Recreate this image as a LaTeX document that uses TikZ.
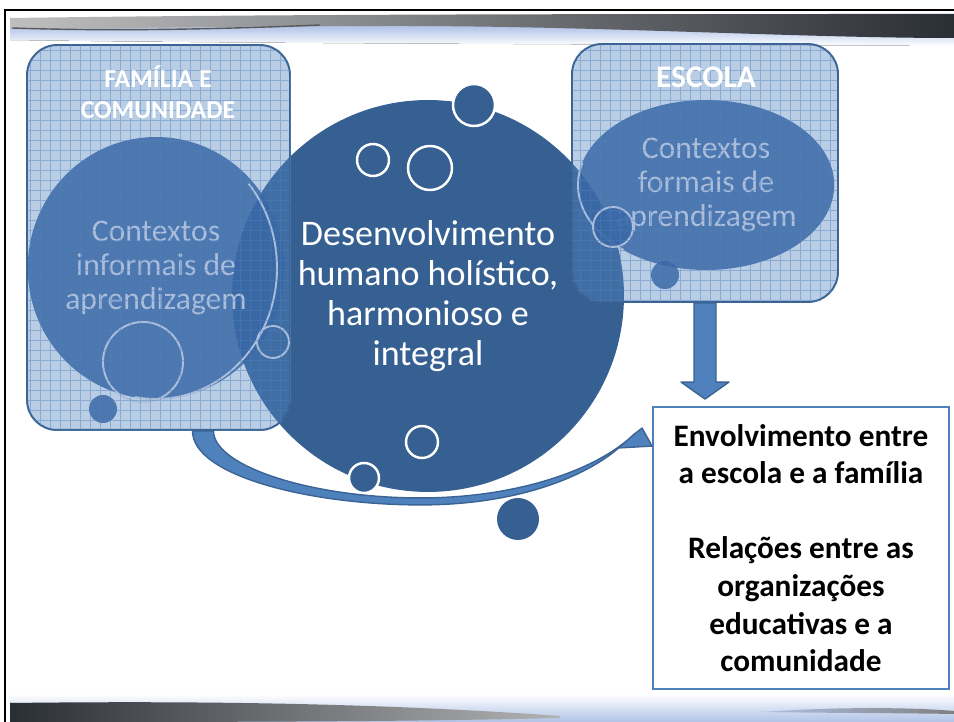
\documentclass[tikz,border=0pt]{standalone}
\usepackage{fontspec}
\setmainfont{Carlito}
\usetikzlibrary{shapes.geometric,calc}
\definecolor{escuro}{HTML}{366092}
\definecolor{medio}{HTML}{4F81BD}
\definecolor{borda}{HTML}{3B6494}
\definecolor{interior}{HTML}{3A68A6}
\definecolor{claro}{HTML}{AABEDC}
\definecolor{faixa}{HTML}{2A2E35}
\definecolor{brilho}{HTML}{B0C2E6}
\tikzset{
  caixa/.style={rectangle, rounded corners=0.6cm, draw=borda, line width=1.1pt,
    fill=medio, fill opacity=0.4, inner sep=0pt},
  bolha/.style={ellipse, fill=interior, fill opacity=0.85, text opacity=1, text=claro,
    inner sep=0pt, align=center, font=\fontsize{18}{19.3}\selectfont},
  contorno/.style={draw=claro, line width=1.1pt},
  anel/.style={draw=white, line width=1.4pt},
  titulo/.style={text=white, align=center, font=\bfseries\fontsize{14.7}{17.6}\selectfont},
  seta/.style={fill=medio, draw=borda, line width=0.8pt, line join=round},
  grade/.style={draw=medio, draw opacity=0.45, line width=0.3pt}
}
\begin{document}
\begin{tikzpicture}[x=0.02cm, y=-0.02cm]
  \useasboundingbox (0,0) rectangle (954,722);
  \fill[top color=brilho, bottom color=white] (10,26) -- (954,26) -- (954,46)
    .. controls (600,44) and (300,44) .. (10,40) -- cycle;
  \shade[left color=gray!50, right color=faixa] (10,18) .. controls (300,14) and (600,14) .. (954,14)
    -- (954,38) .. controls (800,38) and (600,26) .. (400,26) .. controls (200,26) and (60,30) .. (10,28) -- cycle;
  \draw[gray!70!black, line width=0.8pt] (12,28) .. controls (100,31) and (200,30) .. (320,25);
  \fill[top color=white, bottom color=brilho] (10,694) -- (954,694) -- (954,722) -- (10,722) -- cycle;
  \shade[left color=faixa, right color=gray!60] (10,703) .. controls (250,700) and (420,706) .. (560,716)
    -- (560,718) .. controls (400,722) and (200,722) .. (10,722) -- cycle;
  \shade[left color=brilho, right color=gray] (760,712) .. controls (850,706) and (920,708) .. (954,711)
    -- (954,714) .. controls (900,713) and (820,713) .. (760,712) -- cycle;
  \draw[line width=1.2pt] (5,722) -- (5,10) -- (954,10);

  \node[circle, minimum size=7.84cm, inner sep=0pt, fill=escuro, text=white, align=center,
    font=\fontsize{20.5}{22.8}\selectfont] (centro) at (428,296)
    {Desenvolvimento\\humano holístico,\\harmonioso e\\integral};
  \draw[anel, fill=escuro] (474,105) circle[radius=21];
  \draw[anel] (373,160) circle[radius=16];
  \draw[anel] (430,168) circle[radius=22];
  \draw[anel] (422,442) circle[radius=16];
  \draw[anel, fill=escuro] (364,478) circle[radius=15];
  \fill[escuro] (518,519) circle[radius=21];

  \node[caixa, minimum width=5.26cm, minimum height=7.7cm] (familia) at (158.5,237.5) {};
  \node[bolha, minimum width=4.84cm, minimum height=5.24cm] (informal) at (156,268)
    {Contextos\\informais de\\aprendizagem};
  \draw[contorno] (informal.center) ++(-40:121 and 131) arc[start angle=-40, end angle=100, x radius=121, y radius=131];
  \draw[contorno] (143,362) circle[radius=40];
  \draw[contorno] (273,342) circle[radius=16];
  \fill[interior, fill opacity=0.85] (103,409) circle[radius=14];
  \begin{scope}
    \clip[rounded corners=0.6cm] (familia.south west) rectangle (familia.north east);
    \draw[grade] (familia.south west) grid[step=0.2cm] (familia.north east);
  \end{scope}
  \node[titulo] (famtitulo) at (158,92) {FAMÍLIA E\\COMUNIDADE};

  \node[caixa, minimum width=5.32cm, minimum height=5.16cm] (escola) at (705,173) {};
  \node[bolha, minimum width=5.12cm, minimum height=3.4cm] (formal) at (706,185)
    {Contextos\\formais de\\aprendizagem};
  \draw[contorno] (formal.center) ++(195:128 and 85) arc[start angle=195, end angle=130, x radius=128, y radius=85];
  \draw[contorno, fill=interior, fill opacity=0.9] (613,227) circle[radius=20];
  \fill[interior, fill opacity=0.85] (665,275) circle[radius=14];
  \begin{scope}
    \clip[rounded corners=0.6cm] (escola.south west) rectangle (escola.north east);
    \draw[grade] (escola.south west) grid[step=0.2cm] (escola.north east);
  \end{scope}
  \node[titulo, font=\bfseries\fontsize{17.9}{21}\selectfont] (esctitulo) at (706,77) {ESCOLA};

  \node[draw=medio, line width=1.1pt, fill=white, minimum width=5.92cm, minimum height=5.64cm,
    align=center, font=\bfseries\fontsize{17.8}{21.4}\selectfont] (envolv) at (801,548)
    {Envolvimento entre\\a escola e a família\\[21.4pt]Relações entre as\\organizações\\educativas e a\\comunidade};

  \coordinate (datip) at ($(escola.south |- envolv.north)+(0,-7)$);
  \draw[seta] ($(escola.south)+(-11,0)$) -- ($(datip)+(-11,-17)$) -- ($(datip)+(-24,-17)$) -- (datip)
    -- ($(datip)+(24,-17)$) -- ($(datip)+(11,-17)$) -- ($(escola.south)+(11,0)$) -- cycle;

  \coordinate (cstart) at ($(familia.south)+(34,0)$);
  \coordinate (ctip) at ($(envolv.north west)+(0,40)$);
  \draw[seta] (cstart) .. controls +(0,45) and +(-110,0) .. ($(cstart)+(228,74)$)
    .. controls +(105,0) and +(-30,30) .. ($(ctip)+(-27,-4)$) -- ($(ctip)+(-35,2)$) -- (ctip)
    -- ($(ctip)+(-10,-18)$) -- ($(ctip)+(-19,-11)$) .. controls +(-34,33) and +(100,0) .. ($(cstart)+(228,67)$)
    .. controls +(-110,0) and +(0,35) .. ($(cstart)+(21,0)$) -- cycle;
\end{tikzpicture}
\end{document}
